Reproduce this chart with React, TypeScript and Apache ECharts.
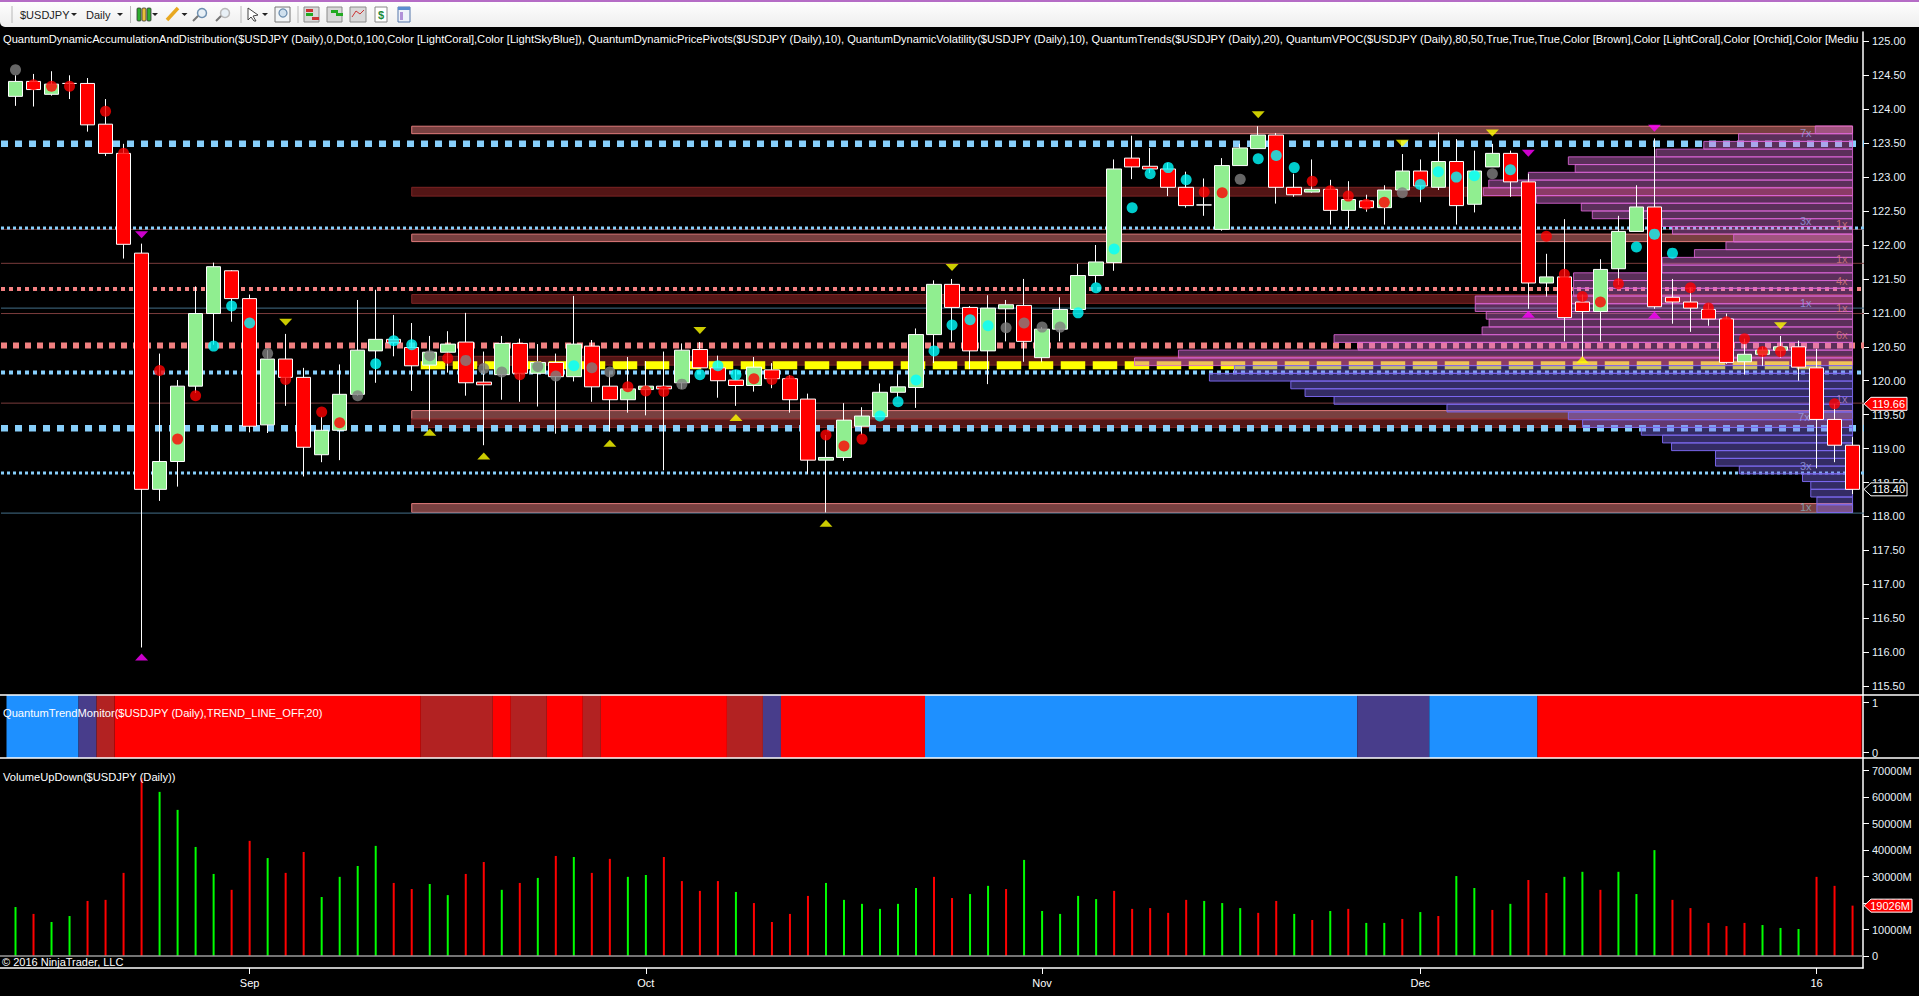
import React, { useEffect, useRef } from "react";
import * as echarts from "echarts";

// Daily candles: open, close, low, high
const ohlc: number[][] = [
[124.19,124.41,124.05,124.50],[124.41,124.29,124.04,124.52],[124.22,124.37,124.20,124.56],[124.38,124.38,124.15,124.50],
[124.38,123.77,123.67,124.46],[123.78,123.35,123.31,124.15],[123.35,122.01,121.80,123.49],[121.88,118.40,116.07,122.02],
[118.40,118.81,118.23,120.40],[118.81,119.92,118.44,120.01],[119.92,120.99,119.82,121.39],[120.99,121.68,120.53,121.74],
[121.62,121.21,120.87,121.63],[121.21,119.33,119.24,121.27],[119.35,120.32,119.23,120.45],[120.32,120.05,119.63,120.69],
[120.05,119.02,118.59,120.19],[118.91,119.27,118.80,119.47],[119.27,119.80,118.83,120.24],[119.80,120.45,119.78,121.19],
[120.44,120.61,119.97,121.34],[120.61,120.56,120.36,120.97],[120.49,120.22,119.85,120.85],[120.23,120.42,119.40,120.66],
[120.42,120.54,120.12,120.73],[120.57,119.97,119.78,121.00],[119.98,119.94,119.05,120.43],[120.09,120.55,119.72,120.66],
[120.55,120.11,119.69,120.62],[120.11,120.27,119.62,120.54],[120.27,120.06,119.22,120.40],[120.06,120.54,119.99,121.25],
[120.51,119.91,119.69,120.60],[119.92,119.72,119.25,120.13],[119.72,119.88,119.53,120.35],[119.87,119.92,119.49,120.29],
[119.92,119.88,118.68,120.43],[119.97,120.45,119.88,120.55],[120.46,120.19,120.19,120.57],[120.19,120.00,119.75,120.37],
[120.01,119.93,119.63,120.16],[119.93,120.20,119.84,120.35],[120.16,120.03,119.89,120.26],[120.03,119.72,119.53,120.08],
[119.73,118.83,118.63,119.81],[118.83,118.87,118.06,119.20],[118.87,119.42,118.82,119.67],[119.33,119.48,119.20,119.61],
[119.47,119.83,119.47,119.96],[119.83,119.91,119.75,120.10],[119.90,120.68,119.60,120.77],[120.68,121.42,120.26,121.48],
[121.42,121.08,120.58,121.50],[121.08,120.44,120.17,121.10],[120.44,121.07,119.95,121.26],[121.06,121.12,120.58,121.19],
[121.11,120.58,120.28,121.50],[120.34,120.76,120.26,120.79],[120.76,121.05,120.58,121.23],[121.05,121.55,121.05,121.72],
[121.55,121.75,121.44,122.00],[121.74,123.12,121.62,123.26],[123.28,123.15,122.97,123.61],[123.16,123.12,123.06,123.43],
[123.12,122.85,122.72,123.21],[122.85,122.58,122.55,123.08],[122.59,122.59,122.43,122.98],[122.23,123.17,122.21,123.28],
[123.17,123.43,123.17,123.49],[123.42,123.62,123.42,123.75],[123.62,122.85,122.61,123.65],[122.85,122.74,122.71,123.05],
[122.78,122.82,122.77,123.26],[122.82,122.51,122.30,122.96],[122.51,122.67,122.25,122.94],[122.65,122.55,122.49,122.74],
[122.55,122.81,122.30,122.88],[122.81,123.09,122.81,123.34],[123.09,122.87,122.63,123.26],[122.85,123.23,122.81,123.66],
[123.23,122.58,122.30,123.56],[122.60,123.09,122.48,123.39],[123.15,123.35,123.15,123.49],[123.35,122.93,122.71,123.39],
[122.93,121.44,121.06,123.05],[121.44,121.53,121.24,121.87],[121.53,120.93,120.58,122.38],[121.16,121.02,120.34,121.27],
[121.02,121.64,120.58,121.79],[121.65,122.20,121.41,122.43],[122.20,122.56,122.20,122.88],[122.56,121.09,121.06,123.57],
[121.23,121.16,120.84,121.50],[121.16,121.07,120.72,121.37],[121.05,120.91,120.81,121.14],[120.91,120.27,120.25,120.99],
[120.28,120.39,120.09,120.62],[120.39,120.45,120.22,120.50],[120.45,120.50,120.34,120.66],[120.50,120.20,120.00,120.59],
[120.19,119.43,118.71,120.47],[119.43,119.05,118.80,119.66],[119.05,118.40,118.33,119.17],
];

const redDots: number[][] = [[1,124.36],[2,124.34],[3,124.34],[5,123.97],[6,123.35],[8,120.15],[9,119.14],[10,119.78],[15,120.02],[17,119.54],[18,119.38],[24,120.33],[28,120.09],[34,119.91],[35,119.85],[36,119.84],[41,120.03],[42,120.02],[43,120.00],[45,119.20],[46,119.04],[47,119.14],[66,122.78],[67,122.77],[72,122.94],[73,122.80],[74,122.72],[75,122.60],[76,122.63],[85,122.13],[86,121.57],[87,121.24],[88,121.16],[89,121.43],[93,121.37],[94,121.07],[95,120.87],[96,120.62],[97,120.43],[98,120.43],[101,119.66]];
const cyanDots: number[][] = [[11,120.51],[12,121.10],[13,120.85],[20,120.25],[21,120.59],[22,120.53],[31,120.22],[38,120.09],[39,120.22],[40,120.09],[48,119.48],[49,119.69],[50,120.01],[51,120.44],[52,120.82],[53,120.90],[54,120.81],[59,121.00],[60,121.37],[61,121.94],[62,122.55],[63,123.05],[64,123.14],[65,122.96],[69,123.27],[70,123.32],[71,123.14],[78,122.89],[79,123.08],[80,123.00],[81,123.02],[83,123.11],[90,121.97],[91,122.16],[92,121.88]];
const grayDots: number[][] = [[0,124.58],[14,120.40],[19,119.78],[23,120.37],[25,120.30],[26,120.18],[27,120.13],[29,120.21],[30,120.07],[32,120.19],[33,120.13],[37,119.95],[55,120.78],[56,120.85],[57,120.79],[58,120.79],[68,122.97],[77,122.77],[82,123.05]];

const yellowDown: number[][] = [[15,120.86],[38,120.74],[52,121.67],[69,123.92],[77,123.50],[82,123.65],[98,120.81]];
const yellowUp: number[][] = [[23,119.24],[26,118.89],[33,119.08],[40,119.46],[45,117.90],[57,120.24],[87,120.31]];
const magentaDown: number[][] = [[7,122.15],[84,123.35],[91,123.72]];
const magentaUp: number[][] = [[7,115.93],[84,120.98],[91,120.97]];

// price, kind
const levels: [number, string][] = [
  [121.73,"brown"],[120.99,"brown"],[119.67,"brown"],[122.23,"brown"],[121.07,"steel"],[118.05,"steel"],
  [123.49,"blueL"],[119.30,"blueL"],[122.25,"blueS"],[118.64,"blueS"],[120.12,"blueM"],
  [121.35,"coralS"],[120.52,"coralL"],
];
// high, low, kind, first bar
const bands: [number, number, string, number][] = [
  [123.75,123.64,"light",22],[122.85,122.72,"dark",22],[122.16,122.05,"light",22],[121.27,121.14,"dark",22],
  [120.36,120.23,"dark",23.5],[119.56,119.44,"light",22],[119.44,119.31,"dark",22],[118.19,118.06,"light",22],
];
const vpocPrice = 120.23;
const vpocFromBar = 22.5;
const lastBar = 102;
const profileTop = 123.754;
const profileStep = 0.1139;
const profileLengths = [2.07,6.33,8.26,10.91,15.78,15.40,18.0,20.2,20.5,17.55,15.06,14.45,10.57,10.0,6.6,7.03,8.78,10.57,10.57,15.49,15.49,15.49,20.95,20.95,20.34,20.18,20.57,28.79,27.45,37.43,39.87,34.32,35.71,31.19,30.4,28.79,22.52,15.78,14.99,11.73,10.55,10.05,7.61,7.61,6.29,2.78,2.32,2.32,1.98,1.98];
const profileOrchidRows = 31;
const profileTags: [string, number, number, string][] = [
  ["7x",99.4,123.65,"#9aa0ea"],["3x",99.4,122.35,"#9aa0ea"],["1x",101.4,122.31,"#dc7c7c"],["1x",101.4,121.80,"#dc7c7c"],
  ["4x",101.4,121.47,"#dc7c7c"],["1x",99.4,121.14,"#9aa0ea"],["1x",101.4,121.07,"#dc7c7c"],["6x",101.4,120.67,"#dc7c7c"],
  ["1x",101.4,119.73,"#b88ad0"],["7x",99.3,119.47,"#9aa0ea"],["3x",99.4,118.75,"#9aa0ea"],["1x",99.4,118.14,"#8ab0c0"],
];

const volumes = [18500,15900,12850,15100,20800,21200,31400,67300,62000,55200,41200,31000,25000,43500,37000,31400,39300,22300,29900,34000,41600,27600,25300,27200,23000,31000,35500,25000,27600,29500,37800,37400,31400,36700,29900,30600,37400,28300,24600,28300,24200,20000,12850,15900,22700,27600,21200,19700,17800,19700,25700,29900,21900,23400,26500,25300,36300,17000,15900,22700,21500,24600,17800,18100,16300,21200,20800,20000,18100,16300,20800,15900,13600,17000,17800,12500,12500,14000,16600,15100,30200,25700,17400,19700,28700,23800,29900,31800,25000,31800,23400,40000,21200,18100,12500,11300,12500,11700,10600,10200,29900,26500,19026];
const volumeDir = "grggrrrrggggrrgrrggggrrggrrgrgrgrrggrrrrgrrrrgggggg"+"rrggrgggggrrrrrgggrrgrgrggrgrggrgrrggrgggrrrrrgggrrrr";

const trendRuns = [4,1,1,17,4,1,2,2,1,7,2,1,8,24,4,6,18];
const trendKinds = ["blue","slate","brick","red","brick","red","brick","red","brick","red","brick","slate","red","blue","slate","blue","red"];

const priceTicks = [115.5,116,116.5,117,117.5,118,118.5,119,119.5,120,120.5,121,121.5,122,122.5,123,123.5,124,124.5,125];
const volumeTicks = [0,10000,20000,30000,40000,50000,60000,70000];
const trendTicks = [0,1];
const dateTicks = [13,35,57,78,100];
const dateLabels = ["Sep","Oct","Nov","Dec","16"];
const lastPrice = 118.40;
const markerPrice = 119.66;
const lastVolume = 19026;

const indicatorTitle = "QuantumDynamicAccumulationAndDistribution($USDJPY (Daily),0,Dot,0,100,Color [LightCoral],Color [LightSkyBlue]), QuantumDynamicPricePivots($USDJPY (Daily),10), QuantumDynamicVolatility($USDJPY (Daily),10), QuantumTrends($USDJPY (Daily),20), QuantumVPOC($USDJPY (Daily),80,50,True,True,True,Color [Brown],Color [LightCoral],Color [Orchid],Color [Mediu";
const trendTitle = "QuantumTrendMonitor($USDJPY (Daily),TREND_LINE_OFF,20)";
const volumeTitle = "VolumeUpDown($USDJPY (Daily))";
const copyright = "\u00A9 2016 NinjaTrader, LLC";

const FONT = "'Liberation Sans', Arial, sans-serif";
const xMin = -0.861;
const xMax = 102.58;
const levelStyle: Record<string, any> = {
  brown: { stroke: "#7a3c3c", lineWidth: 1 },
  steel: { stroke: "#44708a", lineWidth: 1 },
  blueL: { stroke: "#87cefa", lineWidth: 6.5, lineDash: [7, 7] },
  blueM: { stroke: "#87cefa", lineWidth: 4, lineDash: [4, 4] },
  blueS: { stroke: "#87cefa", lineWidth: 3, lineDash: [3, 3] },
  coralL: { stroke: "#f08080", lineWidth: 6, lineDash: [6, 6] },
  coralS: { stroke: "#f08080", lineWidth: 4, lineDash: [4, 4] },
};
const bandStyle: Record<string, any> = {
  light: { fill: "rgba(240,128,128,0.5)", stroke: "#e07a7a", lineWidth: 1 },
  dark: { fill: "rgba(165,42,42,0.5)", stroke: "#7d2424", lineWidth: 1 },
};
const trendColor: Record<string, string> = { blue: "#1e90ff", slate: "#483d8b", brick: "#b22222", red: "#ff0000" };

function buildTrendData() {
  let start = 0;
  return trendRuns.map((count, i) => {
    const row = [start, count, i];
    start += count;
    return row;
  });
}

function flagSeries(name: string, xAxisIndex: number, yAxisIndex: number, value: number, fill: string, label: string, width: number): any {
  return {
    type: "custom", name, xAxisIndex, yAxisIndex, z: 20, clip: false, silent: true,
    data: [[xMax, value]],
    renderItem: (_: any, api: any) => {
      const [x, y] = api.coord([api.value(0), api.value(1)]);
      const x0 = x + 1;
      return {
        type: "group",
        children: [
          { type: "polygon", shape: { points: [[x0, y], [x0 + 7, y - 6.5], [x0 + width, y - 6.5], [x0 + width, y + 6.5], [x0 + 7, y + 6.5]] }, style: { fill, stroke: "#fff", lineWidth: 1 } },
          { type: "text", style: { x: x0 + width - 2, y, text: label, fill: "#fff", font: `11px ${FONT}`, align: "right", verticalAlign: "middle" } },
        ],
      };
    },
  };
}

function dotSeries(name: string, data: number[][], color: string): any {
  return { type: "scatter", name, data, symbol: "circle", symbolSize: 11, z: 8, xAxisIndex: 0, yAxisIndex: 0, itemStyle: { color }, silent: true };
}
function triangleSeries(name: string, data: number[][], color: string, down: boolean): any {
  return { type: "scatter", name, data, symbol: "triangle", symbolSize: [13, 7], symbolRotate: down ? 180 : 0, z: 9, xAxisIndex: 0, yAxisIndex: 0, itemStyle: { color }, silent: true };
}

function toolbarGraphics(): any[] {
  const out: any[] = [
    { type: "rect", shape: { x: 0, y: 0, width: 1919, height: 27, r: [0, 0, 0, 5] }, style: { fill: { type: "linear", x: 0, y: 0, x2: 0, y2: 1, colorStops: [{ offset: 0, color: "#ffffff" }, { offset: 1, color: "#eeeeee" }] } } },
    { type: "rect", shape: { x: 0, y: 0, width: 1919, height: 2 }, style: { fill: "#b56cc6" } },
  ];
  [12, 130.5, 241, 298].forEach((x) => out.push({ type: "line", shape: { x1: x, y1: 6, x2: x, y2: 23 }, style: { stroke: "#b8b8b8", lineWidth: 1 } }));
  [74, 120, 155, 184.5, 265].forEach((x) => out.push({ type: "polygon", shape: { points: [[x - 3, 13], [x + 3, 13], [x, 16]] }, style: { fill: "#222" } }));
  [["$USDJPY", 20], ["Daily", 86]].forEach(([text, x]) => out.push({ type: "text", style: { x, y: 14.5, text, fill: "#222", font: `11px ${FONT}`, verticalAlign: "middle" } }));
  // candle icon
  [[137, "#2fae2f"], [142, "#e9c03a"], [147, "#2fae2f"]].forEach(([x, c]: any) => out.push({ type: "rect", shape: { x, y: 8, width: 4, height: 13, r: 1 }, style: { fill: c, stroke: "#333", lineWidth: 0.8 } }));
  // pencil
  out.push({ type: "line", shape: { x1: 167, y1: 20, x2: 178, y2: 8 }, style: { stroke: "#e8a820", lineWidth: 3.5 } });
  // magnifiers
  [[205, "#6d8fb0", 13], [228, "#b9b9b9", 13]].forEach(([x, c, y]: any) => {
    out.push({ type: "circle", shape: { cx: x - 3, cy: y, r: 4.5 }, style: { fill: "#e8f0f6", stroke: c, lineWidth: 1.5 } });
    out.push({ type: "line", shape: { x1: x - 7, y1: y + 3, x2: x - 12, y2: y + 8 }, style: { stroke: "#777", lineWidth: 2 } });
  });
  out.push({ type: "polygon", shape: { points: [[248, 8], [258, 15], [253, 16], [256, 21], [254, 21], [251, 17], [248, 20]] }, style: { fill: "#fff", stroke: "#444", lineWidth: 1 } });
  out.push({ type: "rect", shape: { x: 275, y: 7, width: 15, height: 15 }, style: { fill: "#f2f5f7", stroke: "#777", lineWidth: 1 } });
  out.push({ type: "circle", shape: { cx: 283, cy: 13, r: 4 }, style: { fill: "#cfe0ee", stroke: "#6d8fb0", lineWidth: 1.3 } });
  // right-hand tool icons
  [[304, 15], [327, 15], [350, 16]].forEach(([x, w]) => out.push({ type: "rect", shape: { x, y: 7, width: w, height: 15 }, style: { fill: "#d8d8d8", stroke: "#8a8a8a", lineWidth: 1 } }));
  [[306, 9, "#c33"], [306, 13, "#2a2"], [312, 17, "#c33"], [331, 10, "#2a2"], [336, 13, "#2a2"]].forEach(([x, y, c]: any) => out.push({ type: "rect", shape: { x, y, width: 7, height: 3 }, style: { fill: c } }));
  out.push({ type: "polyline", shape: { points: [[352, 17], [356, 11], [360, 14], [364, 10]] }, style: { stroke: "#c33", lineWidth: 1, fill: "none" } });
  out.push({ type: "rect", shape: { x: 375, y: 7, width: 12, height: 15 }, style: { fill: "#fff", stroke: "#888", lineWidth: 1 } });
  out.push({ type: "text", style: { x: 381, y: 15, text: "$", fill: "#1a8a3a", font: `bold 11px ${FONT}`, align: "center", verticalAlign: "middle" } });
  out.push({ type: "rect", shape: { x: 398, y: 7, width: 12, height: 15 }, style: { fill: "#eef2fa", stroke: "#5577aa", lineWidth: 1 } });
  out.push({ type: "rect", shape: { x: 398, y: 7, width: 12, height: 3 }, style: { fill: "#5b8ed0" } });
  out.push({ type: "rect", shape: { x: 400, y: 12, width: 3, height: 8 }, style: { fill: "#b090d8" } });
  return out;
}

export default function App() {
  const ref = useRef<HTMLDivElement>(null);
  useEffect(() => {
    document.body.style.margin = "0";
    document.body.style.background = "#000";
    const chart = echarts.init(ref.current!, undefined, { renderer: "svg" });
    const candleData = ohlc.map((d, i) => [i, d[0], d[1], d[2], d[3]]);
    const volumeBars = volumes.map((v, i) => ({ value: [i, v], itemStyle: { color: volumeDir[i] === "g" ? "#00ff00" : "#ff0000" } }));
    const xBase = { type: "value", min: xMin, max: xMax, splitLine: { show: false } };
    const yLabel = { color: "#e8f2f8", fontSize: 11, fontFamily: FONT, margin: 9 };
    const yTick = { show: true, length: 6, lineStyle: { color: "#fff" } };
    const yLine = { show: true, onZero: false, lineStyle: { color: "#fff", width: 1.5 } };
    const overlay = [
      { type: "line", shape: { x1: 0, y1: 695, x2: 1919, y2: 695 }, style: { stroke: "#fff", lineWidth: 1.5 } },
      { type: "line", shape: { x1: 0, y1: 758, x2: 1919, y2: 758 }, style: { stroke: "#fff", lineWidth: 1.5 } },
      ...toolbarGraphics(),
      { type: "text", style: { x: 3, y: 39, text: indicatorTitle, fill: "#fff", font: `11.15px ${FONT}`, verticalAlign: "middle" } },
      { type: "text", style: { x: 3, y: 713, text: trendTitle, fill: "#fff", font: `11.15px ${FONT}`, verticalAlign: "middle" } },
      { type: "text", style: { x: 3, y: 776.5, text: volumeTitle, fill: "#fff", font: `11.15px ${FONT}`, verticalAlign: "middle" } },
      { type: "text", style: { x: 2, y: 962, text: copyright, fill: "#fff", font: `11px ${FONT}`, verticalAlign: "middle" } },
    ].map((el: any) => ({ ...el, z: 100, silent: true }));

    const option: any = {
      animation: false,
      backgroundColor: "#000",
      textStyle: { fontFamily: FONT },
      grid: [
        { left: 0, right: 56, top: 32, height: 663 },
        { left: 0, right: 56, top: 695, height: 63 },
        { left: 0, right: 56, top: 758, height: 210 },
      ],
      xAxis: [
        { ...xBase, gridIndex: 0, show: false },
        { ...xBase, gridIndex: 1, show: false },
        {
          ...xBase, gridIndex: 2, position: "bottom",
          axisLine: { show: true, onZero: false, lineStyle: { color: "#fff", width: 1.5 } },
          axisTick: { show: true, length: 6, customValues: dateTicks, lineStyle: { color: "#fff" } },
          axisLabel: { customValues: dateTicks, color: "#fff", fontSize: 11, fontFamily: FONT, margin: 9, formatter: (v: number) => dateLabels[dateTicks.indexOf(v)] ?? "" },
        },
      ],
      yAxis: [
        {
          type: "value", gridIndex: 0, position: "right", min: 115.37, max: 125.138, splitLine: { show: false },
          axisLine: yLine, axisTick: { ...yTick, customValues: priceTicks },
          axisLabel: { ...yLabel, customValues: priceTicks, formatter: (v: number) => v.toFixed(2) },
        },
        {
          type: "value", gridIndex: 1, position: "right", min: -0.106, max: 1.154, splitLine: { show: false },
          axisLine: yLine, axisTick: { ...yTick, customValues: trendTicks },
          axisLabel: { ...yLabel, customValues: trendTicks, formatter: (v: number) => String(v) },
        },
        {
          type: "value", gridIndex: 2, position: "right", min: -4534, max: 74800, splitLine: { show: false },
          axisLine: yLine, axisTick: { ...yTick, customValues: volumeTicks },
          axisLabel: { ...yLabel, customValues: volumeTicks, formatter: (v: number) => (v === 0 ? "0" : `${v}M`) },
        },
      ],
      series: [
        {
          type: "custom", name: "Bands", xAxisIndex: 0, yAxisIndex: 0, z: 2, silent: true,
          data: bands.map((b) => [b[3], b[0], b[1], lastBar]),
          renderItem: (p: any, api: any) => {
            const [x0, y0] = api.coord([api.value(0), api.value(1)]);
            const [x1, y1] = api.coord([api.value(3), api.value(2)]);
            return { type: "rect", shape: { x: x0, y: y0, width: x1 - x0, height: y1 - y0 }, style: bandStyle[bands[p.dataIndex][2]] };
          },
        },
        {
          type: "custom", name: "Levels", xAxisIndex: 0, yAxisIndex: 0, z: 3, silent: true,
          data: levels.map((l) => [xMin, l[0]]),
          renderItem: (p: any, api: any) => {
            const [x0, y] = api.coord([xMin, api.value(1)]);
            const [x1] = api.coord([xMax, api.value(1)]);
            return { type: "line", shape: { x1: x0 + 1, y1: y, x2: x1 + 1, y2: y }, style: levelStyle[levels[p.dataIndex][1]] };
          },
        },
        {
          type: "custom", name: "VPOC", xAxisIndex: 0, yAxisIndex: 0, z: 4, silent: true,
          data: [[vpocFromBar, vpocPrice, lastBar]],
          renderItem: (_: any, api: any) => {
            const [x0, y] = api.coord([api.value(0), api.value(1)]);
            const [x1] = api.coord([api.value(2), api.value(1)]);
            return { type: "line", shape: { x1: x0, y1: y, x2: x1, y2: y }, style: { stroke: "#ffff00", lineWidth: 8, lineDash: [24.5, 7.5] } };
          },
        },
        {
          type: "custom", name: "Volume profile", xAxisIndex: 0, yAxisIndex: 0, z: 5, silent: true,
          data: profileLengths.map((len, i) => [lastBar - len, profileTop - i * profileStep, lastBar, profileTop - (i + 1) * profileStep]),
          renderItem: (p: any, api: any) => {
            const [x0, y0] = api.coord([api.value(0), api.value(1)]);
            const [x1, y1] = api.coord([api.value(2), api.value(3)]);
            const orchid = p.dataIndex < profileOrchidRows;
            return {
              type: "rect", shape: { x: x0, y: y0, width: x1 - x0, height: y1 - y0 },
              style: orchid
                ? { fill: "rgba(218,112,214,0.42)", stroke: "rgba(218,100,214,0.85)", lineWidth: 1 }
                : { fill: "rgba(123,104,238,0.42)", stroke: "rgba(123,104,238,0.95)", lineWidth: 1 },
            };
          },
        },
        {
          type: "scatter", name: "Profile tags", xAxisIndex: 0, yAxisIndex: 0, z: 6, symbolSize: 1, itemStyle: { color: "transparent" }, silent: true,
          data: profileTags.map((t) => ({ value: [t[1], t[2]], label: { show: true, position: "inside", formatter: t[0], color: t[3], fontSize: 11, fontFamily: FONT } })),
        },
        {
          type: "candlestick", name: "$USDJPY", xAxisIndex: 0, yAxisIndex: 0, z: 7, barWidth: 15, silent: true,
          data: candleData, encode: { x: 0, y: [1, 2, 3, 4] },
          itemStyle: { color: "#90ee90", color0: "#ff0000", borderColor: "#ffffff", borderColor0: "#ffffff", borderColorDoji: "#ffffff", borderWidth: 1 },
        },
        dotSeries("Red dots", redDots, "#ff0000"),
        dotSeries("Cyan dots", cyanDots, "#00ffff"),
        dotSeries("Gray dots", grayDots, "#808080"),
        triangleSeries("Yellow down", yellowDown, "#ffff00", true),
        triangleSeries("Yellow up", yellowUp, "#ffff00", false),
        triangleSeries("Magenta down", magentaDown, "#ff00ff", true),
        triangleSeries("Magenta up", magentaUp, "#ff00ff", false),
        {
          type: "custom", name: "Trend monitor", xAxisIndex: 1, yAxisIndex: 1, z: 2, silent: true,
          data: buildTrendData(),
          renderItem: (p: any, api: any) => {
            const s = api.value(0);
            const c = api.value(1);
            const [x0, y0] = api.coord([s - 0.5, 1.154]);
            const [x1, y1] = api.coord([s + c - 0.5, -0.106]);
            return { type: "rect", shape: { x: x0, y: y0, width: x1 - x0, height: y1 - y0 }, style: { fill: trendColor[trendKinds[p.dataIndex]] } };
          },
        },
        {
          type: "bar", name: "Volume", xAxisIndex: 2, yAxisIndex: 2, z: 3, barWidth: 2, silent: true,
          data: volumeBars,
          markLine: { silent: true, symbol: "none", label: { show: false }, lineStyle: { color: "#9a9a9a", width: 1.5, type: "solid" }, data: [{ yAxis: 0 }] },
        },
        flagSeries("Marker price", 0, 0, markerPrice, "#ff0000", markerPrice.toFixed(2), 43),
        flagSeries("Last price", 0, 0, lastPrice, "#000000", lastPrice.toFixed(2), 43),
        flagSeries("Last volume", 2, 2, lastVolume, "#ff0000", `${lastVolume}M`, 48),
      ],
      graphic: overlay,
    };
    chart.setOption(option);
    return () => chart.dispose();
  }, []);
  return <div ref={ref} style={{ position: "absolute", left: 0, top: 0, width: 1919, height: 996, background: "#000" }} />;
}
